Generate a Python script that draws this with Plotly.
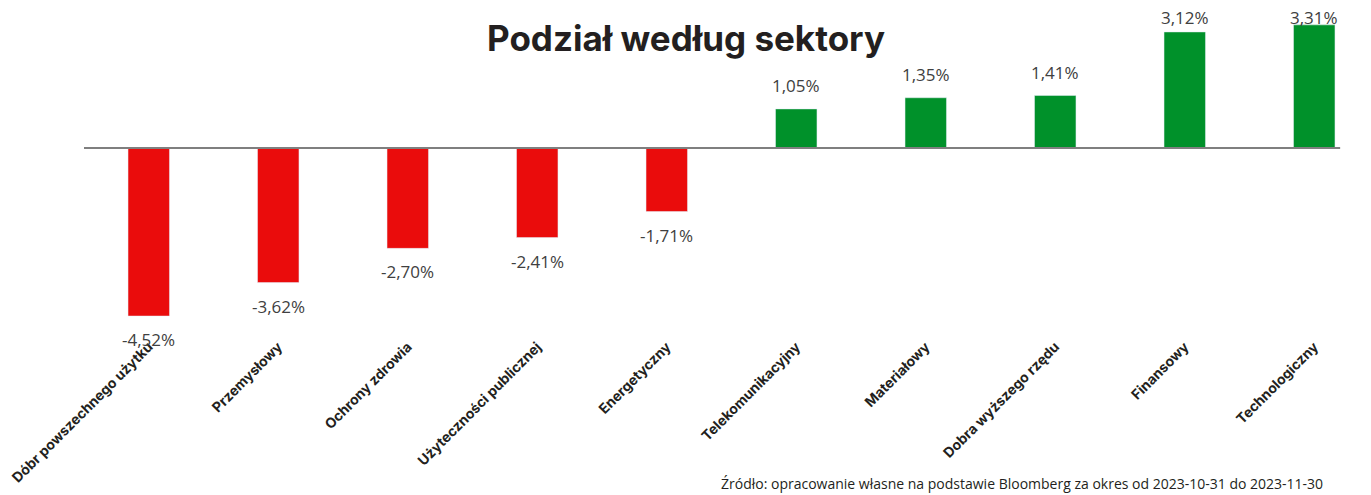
import plotly.graph_objects as go

sektory = ['Dóbr powszechnego użytku', 'Przemysłowy', 'Ochrony zdrowia',
           'Użyteczności publicznej', 'Energetyczny', 'Telekomunikacyjny',
           'Materiałowy', 'Dobra wyższego rzędu', 'Finansowy', 'Technologiczny']
zmiana = [-4.52, -3.62, -2.70, -2.41, -1.71, 1.05, 1.35, 1.41, 3.12, 3.31]

kolory = ['#EA0C0C' if v < 0 else '#00912A' for v in zmiana]
etykiety = [f'{v:.2f}%'.replace('.', ',') for v in zmiana]

y_min, y_max = -5.03, 3.71
odstep = 0.63      # odstęp etykiety od końca słupka (w jednostkach osi)
gora = 3.50        # etykiety nie wychodzą poza górę wykresu

fig = go.Figure()
fig.add_trace(go.Bar(
    x=sektory, y=zmiana,
    marker_color=kolory,
    width=0.32,
    hoverinfo='x+y',
))

for s, v, t in zip(sektory, zmiana, etykiety):
    if v > 0:
        fig.add_annotation(x=s, y=min(v + odstep, gora), text=t, showarrow=False,
                           xanchor='center', yanchor='middle', borderpad=0,
                           font=dict(family='Open Sans', size=17, color='#404040'))
    else:
        # kotwica na końcu słupka, przesunięcie w pikselach (żeby nie wypadła poza zakres osi)
        fig.add_annotation(x=s, y=v, yshift=-23.5, text=t, showarrow=False,
                           xanchor='center', yanchor='middle', borderpad=0,
                           font=dict(family='Open Sans', size=17, color='#404040'))

# linia zera
fig.add_shape(type='line', xref='paper', yref='y', x0=0, x1=0.970, y0=0, y1=0,
              line=dict(color='#7f7f7f', width=2))

fig.add_annotation(text='<b>Podział według sektory</b>', xref='paper', yref='paper',
                   x=0.465, y=0.985, xanchor='center', yanchor='top',
                   showarrow=False, font=dict(family='Inter', size=35, color='#231f20'))

fig.add_annotation(text='Źródło: opracowanie własne na podstawie Bloomberg za okres od 2023-10-31 do 2023-11-30',
                   xref='paper', yref='paper', x=0.958, y=-0.458,
                   xanchor='right', yanchor='middle', showarrow=False,
                   font=dict(family='Open Sans', size=14, color='#231f20'))

fig.update_layout(
    width=1371, height=495,
    margin=dict(l=76, r=0, t=2, b=168),
    plot_bgcolor='white', paper_bgcolor='white',
    showlegend=False,
    xaxis=dict(tickangle=-45, showline=False, showgrid=False, ticks='', automargin=False,
               tickfont=dict(family='Inter', size=14, color='#231f20', weight='bold')),
    yaxis=dict(range=[y_min, y_max], visible=False, showgrid=False, zeroline=False,
               automargin=False),
)

fig.write_html('out.html')
